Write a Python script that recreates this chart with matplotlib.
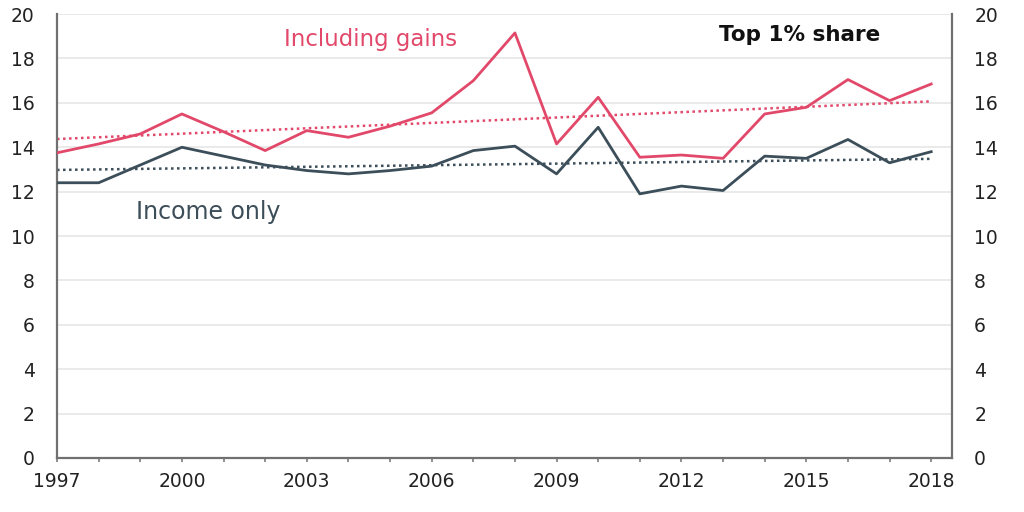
import numpy as np
import matplotlib
matplotlib.use("Agg")
import matplotlib.pyplot as plt

plt.rcParams['font.family'] = ['DejaVu Sans']

years = list(range(1997, 2019))
incl_gains = [13.75, 14.15, 14.6, 15.5, 14.7, 13.85, 14.75, 14.45, 14.95, 15.55, 17.0,
              19.15, 14.15, 16.25, 13.55, 13.65, 13.5, 15.5, 15.8, 17.05, 16.1, 16.85]
income_only = [12.4, 12.4, 13.2, 14.0, 13.6, 13.2, 12.95, 12.8, 12.95, 13.15, 13.85,
               14.05, 12.8, 14.9, 11.9, 12.25, 12.05, 13.6, 13.5, 14.35, 13.3, 13.8]
tick_years = [1997, 2000, 2003, 2006, 2009, 2012, 2015, 2018]

pink = '#e2486a'
slate = '#3c4e59'

fig = plt.figure(figsize=(10.24, 5.12), dpi=100)
ax = fig.add_axes([0.0557, 0.1055, 0.874, 0.867])

x = np.array(years)
for vals, col in [(incl_gains, pink), (income_only, slate)]:
    ax.plot(x, vals, color=col, lw=2, zorder=3)
    # linear trend line, like the spreadsheet one
    k, b = np.polyfit(x, vals, 1)
    ax.plot(x, k * x + b, color=col, lw=1.8, ls=(0, (1, 1.4)), zorder=2)

ax.set_xlim(1997, 2018.5)
ax.set_ylim(0, 20)
ax.set_yticks(range(0, 21, 2))
ax.set_xticks(years, minor=True)
ax.set_xticks(tick_years)
ax.grid(axis='y', color='#e6e6e6', lw=1.2, zorder=0)
ax.set_axisbelow(True)

for s in ['left', 'right', 'bottom']:
    ax.spines[s].set_color('#707070')
    ax.spines[s].set_linewidth(1.6)
ax.spines['top'].set_visible(False)

ax.tick_params(axis='y', left=True, right=True, length=0, labelsize=13.5,
               labelcolor='#222222', pad=16, labelleft=True, labelright=True)
ax.tick_params(axis='x', which='both', direction='out', length=3, width=1.1,
               color='#707070', labelsize=13.5, labelcolor='#222222', pad=7)
ax.tick_params(axis='x', which='minor', labelbottom=False)

ax.text(2002.45, 18.85, 'Including gains', color=pink, fontsize=16.5, ha='left', va='center')
ax.text(1998.9, 11.1, 'Income only', color=slate, fontsize=17, ha='left', va='center')
ax.text(2012.9, 19.05, 'Top 1% share', color='#111111', fontsize=15.5,
        fontweight='bold', ha='left', va='center')

fig.savefig('out.png', dpi=100)
